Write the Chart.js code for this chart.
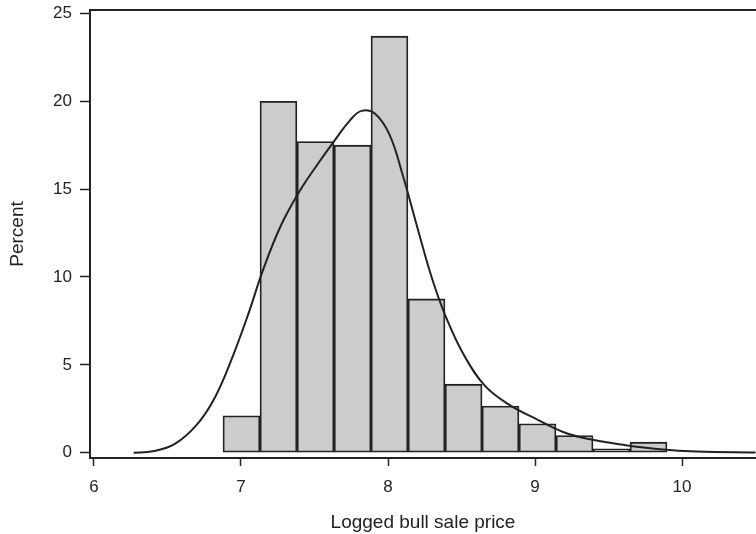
<!DOCTYPE html>
<html>
<head>
<meta charset="utf-8">
<script src="https://cdn.jsdelivr.net/npm/chart.js@4.4.1/dist/chart.umd.min.js"></script>
<style>
  html, body { margin: 0; padding: 0; background: #fff; }
  #wrap { width: 756px; height: 534px; }
</style>
</head>
<body>
<div id="wrap"><canvas id="hist"></canvas></div>
<script>
// histogram bins (centre of each bin) and percent in each bin
const binCenters = [7.003, 7.255, 7.507, 7.759, 8.010, 8.262, 8.514, 8.765, 9.017, 9.269, 9.520, 9.772];
const binPercent = [2.1, 20.0, 17.7, 17.5, 23.7, 8.75, 3.9, 2.65, 1.65, 0.98, 0.22, 0.6];

// density curve
const curveX = [6.27, 6.40, 6.55, 6.70, 6.82, 6.94, 7.05, 7.15, 7.27, 7.40, 7.52, 7.64, 7.74, 7.82, 7.91, 8.01, 8.10, 8.20, 8.30, 8.40, 8.52, 8.66, 8.82, 9.00, 9.20, 9.40, 9.60, 9.85, 10.1, 10.5];
const curveY = [0.0, 0.08, 0.5, 1.6, 3.1, 5.4, 7.9, 10.4, 12.9, 14.9, 16.4, 17.8, 18.9, 19.45, 19.3, 18.1, 15.8, 12.8, 9.9, 7.6, 5.5, 3.8, 2.75, 1.95, 1.15, 0.72, 0.45, 0.2, 0.07, 0.02];

const xTicks = [6, 7, 8, 9, 10];
const yTicks = [0, 5, 10, 15, 20, 25];

const ink = "#222222";
const tickFont = { family: "'Liberation Sans', Arial, sans-serif", size: 17 };
const titleFont = { family: "'Liberation Sans', Arial, sans-serif", size: 19 };

const ctx = document.getElementById("hist").getContext("2d");

new Chart(ctx, {
  type: "bar",
  data: {
    datasets: [
      {
        type: "line",
        data: curveX.map((x, i) => ({ x, y: curveY[i] })),
        borderColor: ink,
        borderWidth: 2,
        pointRadius: 0,
        tension: 0.4,
        fill: false,
        order: 0,
      },
      {
        type: "bar",
        data: binCenters.map((x, i) => ({ x, y: binPercent[i] })),
        backgroundColor: "#cccccc",
        borderColor: ink,
        borderWidth: 1.8,
        borderSkipped: false,
        barPercentage: 1,
        categoryPercentage: 1,
        order: 1,
      },
    ],
  },
  options: {
    responsive: true,
    maintainAspectRatio: false,
    animation: false,
    layout: { padding: { top: 10, right: 0, left: 0, bottom: 0 } },
    plugins: { legend: { display: false }, tooltip: { enabled: false } },
    scales: {
      x: {
        type: "linear",
        offset: false,
        min: 5.973,
        max: 10.503,
        afterBuildTicks: (s) => { s.ticks = xTicks.map((v) => ({ value: v })); },
        afterFit: (s) => { s.height = 76; s.paddingLeft = 0; s.paddingRight = 0; },
        border: { color: ink, width: 2 },
        grid: { offset: false, drawOnChartArea: false, drawTicks: true, tickLength: 8, tickColor: ink, tickWidth: 1.5 },
        ticks: { color: ink, font: tickFont, padding: 11, maxRotation: 0 },
        title: { display: true, text: "Logged bull sale price", color: ink, font: titleFont, padding: { top: 8, bottom: 0 } },
      },
      xTop: {
        type: "linear",
        position: "top",
        min: 5.973,
        max: 10.503,
        afterFit: (s) => { s.height = 0; },
        border: { display: true, color: ink, width: 2 },
        grid: { display: false },
        ticks: { display: false },
      },
      y: {
        min: -0.3,
        max: 25.19,
        afterBuildTicks: (s) => { s.ticks = yTicks.map((v) => ({ value: v })); },
        afterFit: (s) => { s.width = 90; s.paddingTop = 0; s.paddingBottom = 0; },
        border: { color: ink, width: 2 },
        grid: { drawOnChartArea: false, drawTicks: true, tickLength: 10, tickColor: ink, tickWidth: 1.5 },
        ticks: { color: ink, font: tickFont, padding: 8 },
        title: { display: true, text: "Percent", color: ink, font: titleFont, padding: { top: 6, bottom: 4 } },
      },
    },
  },
});
</script>
</body>
</html>
